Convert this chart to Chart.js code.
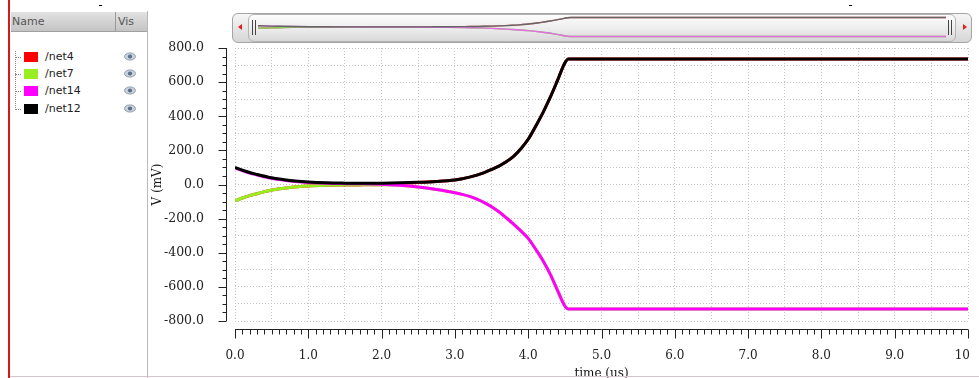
<!DOCTYPE html>
<html>
<head>
<meta charset="utf-8">
<title>Transient response</title>
<script src="https://cdn.jsdelivr.net/npm/chart.js@4.4.1/dist/chart.umd.min.js"></script>
<style>
  html, body { margin: 0; padding: 0; background: #fff; }
  body { width: 979px; height: 378px; position: relative; overflow: hidden; font-family: "DejaVu Sans", sans-serif; }
  .abs { position: absolute; }
  #redEdge { left: 8px; top: 0; width: 2px; height: 378px; background: #d81818; }
  #panelEdge { left: 147px; top: 11px; width: 1px; height: 367px; background: #b8b8b8; }
  #header { left: 11px; top: 12px; width: 136px; height: 19px; background: linear-gradient(#e2e2e2, #c4c4c4); border-bottom: 1px solid #a0a0a0; font-size: 11px; color: #555; }
  #header span { position: absolute; top: 3px; }
  #header .div { position: absolute; left: 104px; top: 0; width: 1px; height: 19px; background: #999; }
  .row { left: 14px; height: 14px; font-size: 11px; color: #222; }
  .row .sw { position: absolute; left: 10px; top: 2px; width: 14px; height: 10px; }
  .row .lbl { position: absolute; left: 31px; top: 0; }
  .row .eye { position: absolute; left: 110px; top: 2px; }
  .row .dash { position: absolute; left: 1px; top: 7px; width: 6px; border-top: 1px dotted #888; }
  #tree { left: 15px; top: 51px; height: 59px; border-left: 1px dotted #888; }
  #scrollOuter { left: 232px; top: 13px; width: 738px; height: 28px; border: 1px solid #a4a4a4; border-radius: 6px; background: linear-gradient(#f6f6f6, #d6d6d6); }
  #scrollInner { left: 248px; top: 14px; width: 706px; height: 26px; border: 1px solid #b4b4b4; border-radius: 6px; background: linear-gradient(#fdfdfd, #ececec 55%, #d8d8d8); }
  .arrowL { left: 238px; top: 24px; width: 0; height: 0; border-top: 3px solid transparent; border-bottom: 3px solid transparent; border-right: 4px solid #e02020; }
  .arrowR { left: 963px; top: 24px; width: 0; height: 0; border-top: 3px solid transparent; border-bottom: 3px solid transparent; border-left: 4px solid #e02020; }
  .grip { top: 20px; width: 1px; height: 15px; background: #444; }
  #bottomLine { left: 10px; top: 376px; width: 969px; height: 1px; background: #d6c4c8; }
  .mark { top: 5px; width: 3px; height: 1px; background: #000; }
  #mainCanvas { left: 150px; top: 40px; }
  #miniCanvas { left: 258px; top: 14px; }
</style>
</head>
<body>
<div class="abs" id="redEdge"></div>
<div class="abs" id="panelEdge"></div>
<div class="abs mark" style="left:99px"></div>
<div class="abs mark" style="left:849px"></div>
<div class="abs" id="header"><span style="left:1px">Name</span><div class="div"></div><span style="left:107px">Vis</span></div>
<div class="abs" id="tree"></div>
<div id="legendRows"></div>

<div class="abs" id="scrollOuter"></div>
<div class="abs" id="scrollInner"></div>
<div class="abs arrowL"></div>
<div class="abs arrowR"></div>
<div class="abs grip" style="left:252px"></div>
<div class="abs grip" style="left:255px"></div>
<div class="abs grip" style="left:948px"></div>
<div class="abs grip" style="left:951px"></div>
<canvas class="abs" id="miniCanvas" width="688" height="26"></canvas>

<canvas class="abs" id="mainCanvas" width="820" height="342"></canvas>
<div class="abs" id="bottomLine"></div>

<script>
// time axis samples (us)
const timeUs = [0, 0.1, 0.2, 0.3, 0.5, 0.75, 1.0, 1.25, 1.5, 1.75, 2.0, 2.25, 2.5, 2.75,
  3.0, 3.1, 3.2, 3.3, 3.4, 3.5, 3.6, 3.7, 3.8, 3.9, 4.0, 4.1, 4.2, 4.3, 4.4, 4.5, 4.55,
  5.0, 6.0, 7.0, 8.0, 9.0, 10.0];

// node voltages (mV)
const net4 = [-95, -79, -65, -54, -32, -17, -9, -5, -3, -2, -1, 4, 12, 18,
  27, 34, 43, 55, 70, 88, 108, 133, 165, 210, 265, 340, 420, 510, 610, 712, 735,
  735, 735, 735, 735, 735, 735];
const net7 = [-95, -79, -65, -54, -32, -17, -9, -5, -3, -2, -2, -5, -15, -30,
  -48, -58, -70, -86, -106, -130, -160, -195, -232, -272, -316, -378, -445, -525, -620, -712, -730,
  -730, -730, -730, -730, -730, -730];
const net14 = [97, 81, 67, 56, 36, 21, 12, 7, 5, 4, 1, -4, -14, -29,
  -48, -58, -70, -86, -106, -130, -160, -195, -232, -272, -316, -378, -445, -525, -620, -712, -730,
  -730, -730, -730, -730, -730, -730];
const net12 = [100, 84, 70, 59, 39, 24, 15, 10, 8, 7, 8, 10, 13, 18,
  27, 34, 43, 55, 70, 88, 108, 133, 165, 210, 265, 340, 420, 510, 610, 712, 735,
  735, 735, 735, 735, 735, 735];

const seriesNames = ['/net4', '/net7', '/net14', '/net12'];
const seriesValues = [net4, net7, net14, net12];
const seriesColors = ['#ff0000', '#99ee22', '#ff00ff', '#000000'];
const miniColors = ['#dd6666', '#88cc55', '#e070e0', '#666666'];
const drawOrder = [3, 2, 1, 0]; // black on top, then magenta, green, red

const xTickStep = 0.5;
const yTickStep = 100;

// legend list on the left
const rowsEl = document.getElementById('legendRows');
const rowTops = [50, 67, 84, 102];
seriesNames.forEach((name, i) => {
  const row = document.createElement('div');
  row.className = 'abs row';
  row.style.top = rowTops[i] + 'px';
  row.innerHTML =
    '<div class="dash"></div>' +
    '<div class="sw" style="background:' + seriesColors[i] + '"></div>' +
    '<div class="lbl">' + name + '</div>' +
    '<svg class="eye" width="12" height="9" viewBox="0 0 12 9">' +
    '<ellipse cx="6" cy="4.5" rx="5.5" ry="3.6" fill="#c9d2dc" stroke="#8090a4" stroke-width="0.8"/>' +
    '<circle cx="6" cy="4.5" r="2.1" fill="#5a6e88"/></svg>';
  rowsEl.appendChild(row);
});

const toPoints = (values) => values.map((v, i) => ({ x: timeUs[i], y: v }));

const buildDatasets = (colors, width) => seriesNames.map((name, i) => ({
  label: name,
  data: toPoints(seriesValues[i]),
  borderColor: colors[i],
  backgroundColor: colors[i],
  borderWidth: width,
  pointRadius: 0,
  fill: false,
  cubicInterpolationMode: 'monotone',
  order: drawOrder[i]
}));

// ruler-style axes drawn slightly away from the plot, like the waveform viewer
const rulers = {
  id: 'rulers',
  afterDraw(chart) {
    const { ctx, chartArea, scales } = chart;
    const xs = scales.x;
    const ys = scales.y;
    ctx.save();
    ctx.strokeStyle = '#222';
    ctx.lineWidth = 1;

    const axX = Math.round(chartArea.left - 9) + 0.5;
    const yTop = ys.getPixelForValue(800);
    const yBot = ys.getPixelForValue(-800);
    ctx.beginPath();
    ctx.moveTo(axX, yTop);
    ctx.lineTo(axX, yBot);
    for (let v = -800; v <= 800; v += 50) {
      const py = Math.round(ys.getPixelForValue(v)) + 0.5;
      const len = v % 200 === 0 ? 8 : 4;
      ctx.moveTo(axX - len, py);
      ctx.lineTo(axX, py);
    }
    ctx.stroke();

    const axY = Math.round(chartArea.bottom + 8) + 0.5;
    const xL = xs.getPixelForValue(0);
    const xR = xs.getPixelForValue(10);
    ctx.beginPath();
    ctx.moveTo(xL, axY);
    ctx.lineTo(xR, axY);
    for (let i = 0; i <= 100; i++) {
      const px = Math.round(xs.getPixelForValue(i / 10)) + 0.5;
      const len = i % 10 === 0 ? 9 : 5;
      ctx.moveTo(px, axY);
      ctx.lineTo(px, axY + len);
    }
    ctx.stroke();
    ctx.restore();
  }
};

const serif = '"DejaVu Serif", "Liberation Serif", serif';

new Chart(document.getElementById('mainCanvas').getContext('2d'), {
  type: 'line',
  data: { datasets: buildDatasets(seriesColors, 3) },
  plugins: [rulers],
  options: {
    responsive: false,
    animation: false,
    layout: { padding: { top: 8, right: 2, left: 0, bottom: 0 } },
    plugins: { legend: { display: false }, tooltip: { enabled: false } },
    scales: {
      x: {
        type: 'linear',
        min: 0,
        max: 10,
        afterFit: (s) => { s.height = 61; s.paddingLeft = 0; s.paddingRight = 0; },
        grid: { color: '#c4c4c4', drawTicks: false },
        border: { display: false, dash: [1, 2] },
        ticks: {
          stepSize: xTickStep,
          autoSkip: false,
          maxRotation: 0,
          padding: 28,
          color: '#222',
          font: { family: serif, size: 12 },
          callback: (v) => Number.isInteger(v) ? v.toFixed(1) : ''
        },
        title: {
          display: true,
          text: 'time (us)',
          color: '#111',
          font: { family: serif, size: 12 },
          padding: { top: 0, bottom: 1 }
        }
      },
      y: {
        type: 'linear',
        min: -800,
        max: 800,
        afterFit: (s) => { s.width = 85; s.paddingTop = 0; s.paddingBottom = 0; },
        grid: { color: '#c4c4c4', drawTicks: false },
        border: { display: false, dash: [1, 2] },
        ticks: {
          stepSize: yTickStep,
          autoSkip: false,
          padding: 31,
          color: '#222',
          font: { family: serif, size: 12.5 },
          callback: (v) => v % 200 === 0 ? v.toFixed(1) : ''
        },
        title: {
          display: true,
          text: 'V (mV)',
          color: '#111',
          font: { family: serif, size: 12 },
          padding: { top: 1, bottom: 0 }
        }
      }
    }
  }
});

// overview strip inside the scroll bar
new Chart(document.getElementById('miniCanvas').getContext('2d'), {
  type: 'line',
  data: { datasets: buildDatasets(miniColors, 1.4) },
  options: {
    responsive: false,
    animation: false,
    layout: { padding: 0 },
    plugins: { legend: { display: false }, tooltip: { enabled: false } },
    scales: {
      x: { type: 'linear', min: 0, max: 10, display: false },
      y: { type: 'linear', min: -1000, max: 1000, display: false }
    }
  }
});
</script>
</body>
</html>
